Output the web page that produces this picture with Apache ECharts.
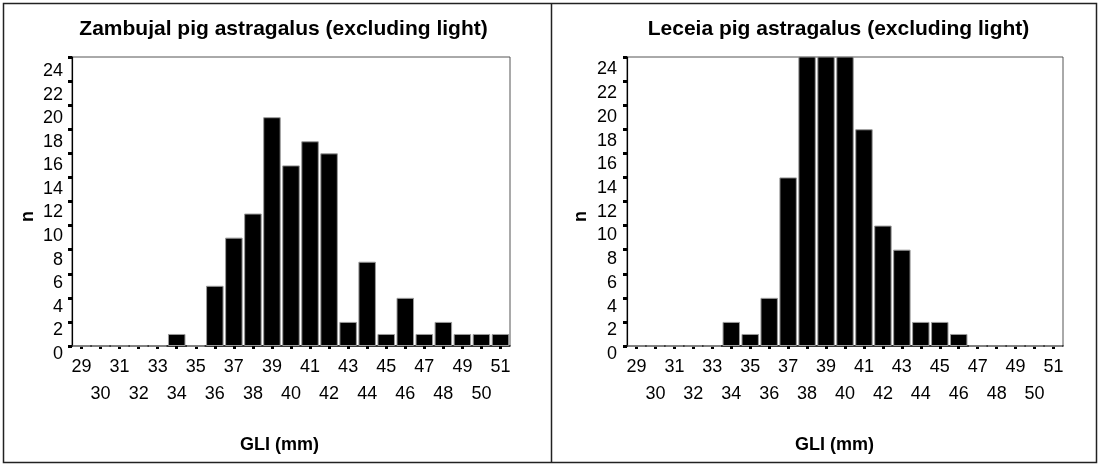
<!DOCTYPE html>
<html>
<head>
<meta charset="utf-8">
<script src="https://cdn.jsdelivr.net/npm/echarts@6/dist/echarts.min.js"></script>
<style>
  html, body { margin: 0; padding: 0; background: #fff; }
  #chart { width: 1101px; height: 465px; }
</style>
</head>
<body>
<div id="chart"></div>
<script>
// GLI bins (mm) and astragalus counts per bin
const bins = ['29', '30', '31', '32', '33', '34', '35', '36', '37', '38', '39', '40',
              '41', '42', '43', '44', '45', '46', '47', '48', '49', '50', '51'];
const zambujal = [0, 0, 0, 0, 0, 1, 0, 5, 9, 11, 19, 15, 17, 16, 2, 7, 1, 4, 1, 2, 1, 1, 1];
// the three tallest Leceia bins run past the top of the 0-24 scale
const leceia = [0, 0, 0, 0, 0, 2, 1, 4, 14, 26, 28, 25, 18, 10, 8, 2, 2, 1, 0, 0, 0, 0, 0];

const titles = ['Zambujal pig astragalus (excluding light)', 'Leceia pig astragalus (excluding light)'];
const yAxisTitle = 'n';
const xAxisTitle = 'GLI (mm)';
const yMin = 0, yMax = 24, yStep = 2;

const FONT = '"Liberation Sans", Arial, Helvetica, sans-serif';

const panels = [
  { data: zambujal, title: titles[0], left: 72, width: 438, labelTop: 71, labelBottom: 354, labelMargin: 9,
    titleX: 283.5, xNameX: 279.5, yNameX: 28 },
  { data: leceia, title: titles[1], left: 627, width: 436, labelTop: 69.5, labelBottom: 354, labelMargin: 10,
    titleX: 838.5, xNameX: 834.5, yNameX: 581 }
];
const plotTop = 57, plotBottom = 346;

const grid = [], xAxis = [], yAxis = [], series = [], graphic = [];

panels.forEach((p, i) => {
  const g = i * 2;
  // plotting area
  grid.push({
    left: p.left, top: plotTop, width: p.width, height: plotBottom - plotTop,
    show: true, borderColor: '#555', borderWidth: 1, backgroundColor: 'transparent',
    outerBoundsMode: 'none', containLabel: false
  });
  // companion area carrying the count labels of the vertical axis
  grid.push({
    left: p.left, top: p.labelTop, width: p.width, height: p.labelBottom - p.labelTop,
    show: false, outerBoundsMode: 'none', containLabel: false
  });

  xAxis.push({
    type: 'category', gridIndex: g, data: bins, boundaryGap: true,
    axisLine: { show: true, lineStyle: { color: '#111', width: 1.5 } },
    axisTick: { show: true, alignWithLabel: true, interval: 0, length: 3, lineStyle: { color: '#000', width: 3 } },
    axisLabel: {
      show: true, interval: 0, margin: 8, fontFamily: FONT, fontSize: 18, color: '#000',
      lineHeight: 27, verticalAlign: 'top', hideOverlap: false,
      formatter: (v) => (Number(v) % 2 === 0 ? '\n' + v : v)
    },
    splitLine: { show: false }
  });
  xAxis.push({ type: 'category', gridIndex: g + 1, data: bins, show: false });

  yAxis.push({
    type: 'value', gridIndex: g, min: yMin, max: yMax, interval: yStep,
    axisLine: { show: true, lineStyle: { color: '#000', width: 1.2 } },
    axisTick: { show: true, length: 4, lineStyle: { color: '#000', width: 3 } },
    axisLabel: { show: false },
    splitLine: { show: false }
  });
  yAxis.push({
    type: 'value', gridIndex: g + 1, min: yMin, max: yMax, interval: yStep,
    axisLine: { show: false }, axisTick: { show: false }, splitLine: { show: false },
    axisLabel: { show: true, margin: p.labelMargin, fontFamily: FONT, fontSize: 18, color: '#000' }
  });

  series.push({
    type: 'bar', xAxisIndex: g, yAxisIndex: g, data: p.data,
    barCategoryGap: '8%', clip: true,
    itemStyle: { color: '#000', borderColor: '#9a9a9a', borderWidth: 1 },
    emphasis: { disabled: true }, silent: true
  });

  graphic.push({
    type: 'text', x: p.titleX, y: 29.5, silent: true,
    style: { text: p.title, fontFamily: FONT, fontSize: 21, fontWeight: 'bold', fill: '#000',
             align: 'center', verticalAlign: 'middle' }
  });
  graphic.push({
    type: 'text', x: p.xNameX, y: 445, silent: true,
    style: { text: xAxisTitle, fontFamily: FONT, fontSize: 18, fontWeight: 'bold', fill: '#000',
             align: 'center', verticalAlign: 'middle' }
  });
  graphic.push({
    type: 'text', x: p.yNameX, y: 216.5, rotation: Math.PI / 2, silent: true,
    style: { text: yAxisTitle, fontFamily: FONT, fontSize: 18, fontWeight: 'bold', fill: '#000',
             align: 'center', verticalAlign: 'middle' }
  });
});

// outer frame and the divider between the two panels
graphic.push({
  type: 'rect', silent: true, shape: { x: 3.5, y: 3.5, width: 1093, height: 459 },
  style: { fill: 'none', stroke: '#222', lineWidth: 1.5 }
});
graphic.push({
  type: 'line', silent: true, shape: { x1: 551.5, y1: 3.5, x2: 551.5, y2: 462.5 },
  style: { stroke: '#222', lineWidth: 1.5 }
});

const chart = echarts.init(document.getElementById('chart'), null, { renderer: 'canvas' });
chart.setOption({
  animation: false,
  backgroundColor: '#fff',
  grid, xAxis, yAxis, series, graphic
});
</script>
</body>
</html>
